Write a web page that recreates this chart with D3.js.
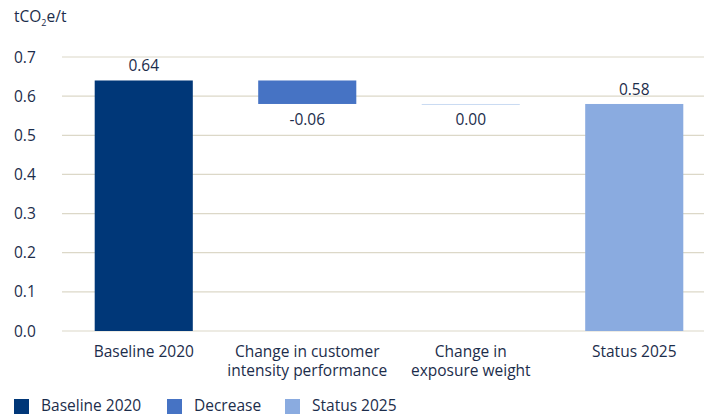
<!DOCTYPE html>
<html><head><meta charset="utf-8">
<script src="https://cdn.jsdelivr.net/npm/d3@7"></script>
<style>body{margin:0;background:#fff}svg{display:block}text{font-family:"Open Sans",Roboto,sans-serif;fill:#1c2d4b}</style>
</head><body><svg id="c" width="704" height="415"></svg>
<script>
const categories = [["Baseline 2020"], ["Change in customer", "intensity performance"], ["Change in", "exposure weight"], ["Status 2025"]];
const values = [0.64, -0.06, 0.00, 0.58];
const kinds = ["base", "dec", "zero", "status"];
const labels = ["0.64", "-0.06", "0.00", "0.58"];
const yTicks = [0, 0.1, 0.2, 0.3, 0.4, 0.5, 0.6, 0.7];
const legendItems = ["Baseline 2020", "Decrease", "Status 2025"];
const colors = {base: "#003778", dec: "#4673c4", zero: "#c9dbf2", status: "#8aabe0"};
const legendColors = ["#003778", "#4673c4", "#8aabe0"];

const FS = "15.5px";
const svg = d3.select("#c");
const y = d3.scaleLinear().domain([0, 0.7]).range([331, 57]);
const x = d3.scaleBand().domain(d3.range(categories.length)).range([62, 716]).paddingInner(0.4).paddingOuter(0.2);

let run = 0;
const segs = values.map((v, i) => {
  let y0, y1;
  if (kinds[i] === "base" || kinds[i] === "status") { y0 = 0; y1 = v; run = v; }
  else { y0 = run; y1 = run + v; run = y1; }
  return {i, y0: Math.min(y0, y1), y1: Math.max(y0, y1), v, kind: kinds[i]};
});

svg.append("text").attr("x", 14).attr("y", 22).style("font-size", FS)
  .html('tCO<tspan dy="4" style="font-size:9px">2</tspan><tspan dy="-4">e/t</tspan>');

svg.append("g").selectAll("line").data(yTicks).join("line")
  .attr("x1", 62).attr("x2", 704).attr("y1", d => y(d)).attr("y2", d => y(d))
  .attr("stroke", "#dcd8c8").attr("stroke-width", 1.2);
svg.append("g").selectAll("text").data(yTicks).join("text")
  .attr("x", 14).attr("y", d => y(d) + 5.5).style("font-size", FS).text(d => d.toFixed(1));

svg.append("g").selectAll("rect").data(segs).join("rect")
  .attr("x", d => x(d.i)).attr("width", x.bandwidth())
  .attr("y", d => y(d.y1))
  .attr("height", d => Math.max(1, y(d.y0) - y(d.y1)))
  .attr("fill", d => colors[d.kind]);

svg.append("g").selectAll("text").data(segs).join("text")
  .attr("x", d => x(d.i) + x.bandwidth() / 2)
  .attr("y", d => (d.kind === "base" || d.kind === "status") ? y(d.y1) - 9 : y(d.y0) + 21)
  .attr("text-anchor", "middle").style("font-size", FS)
  .text(d => labels[d.i]);

const xl = svg.append("g").selectAll("text").data(categories.map((c, i) => ({c, i}))).join("text")
  .attr("x", d => x(d.i) + x.bandwidth() / 2).attr("y", 357)
  .attr("text-anchor", "middle").style("font-size", FS);
xl.selectAll("tspan").data(d => d.c.map(t => ({t, x: x(d.i) + x.bandwidth() / 2}))).join("tspan")
  .attr("x", d => d.x).attr("dy", (d, j) => j === 0 ? 0 : 19).text(d => d.t);

const lx = [14, 167, 285];
const lg = svg.append("g").selectAll("g").data(legendItems).join("g")
  .attr("transform", (d, i) => `translate(${lx[i]},399)`);
lg.append("rect").attr("width", 15).attr("height", 15).attr("fill", (d, i) => legendColors[i]);
lg.append("text").attr("x", 27).attr("y", 12).style("font-size", FS).text(d => d);
</script></body></html>
